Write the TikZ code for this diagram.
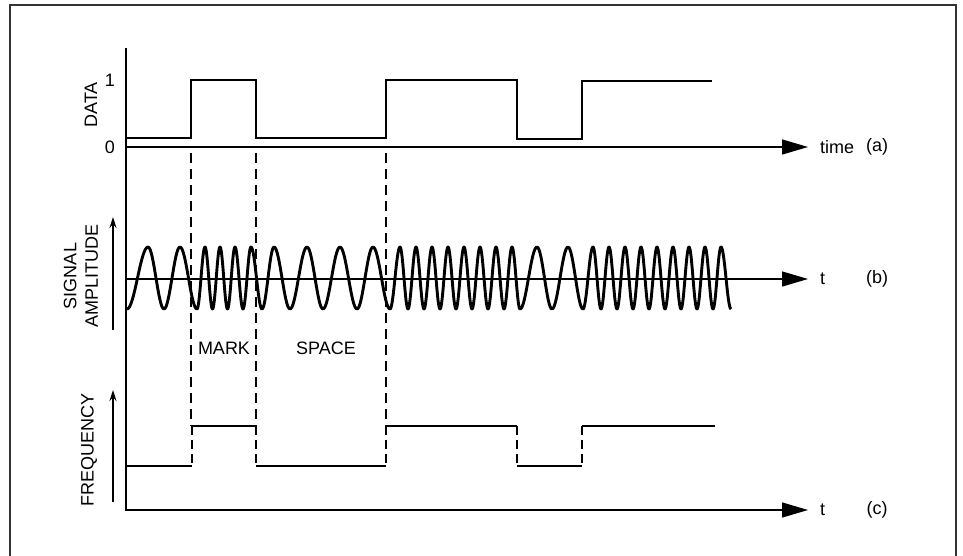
\documentclass[tikz,border=0pt]{standalone}
\usepackage{fontspec}
\setmainfont{Liberation Sans}
\usetikzlibrary{arrows.meta,positioning}

\begin{document}
\begin{tikzpicture}[
    x=1pt, y=-1pt,
    lbl/.style={font=\fontsize{18}{21.5}\selectfont, inner sep=0pt},
    sig/.style={line width=2.9pt},
    axis/.style={line width=1.3pt},
    bigtip/.style={-{Triangle[length=26pt,width=15pt]}},
    smalltip/.style={-{Stealth[length=11pt,width=7pt]}},
    guide/.style={line width=1.2pt, dash pattern=on 10pt off 6pt},
    hop/.style={line width=2.6pt, dash pattern=on 9pt off 5pt},
    frame/.style={line width=1.5pt, black!80}
]
    \useasboundingbox (0,0) rectangle (963,556);
    \draw[frame] (10,560) -- (10,5) -- (956,5) -- (956,560);

    % axes
    \coordinate (ytop) at (126,48);
    \coordinate (corner) at (126,510);
    \coordinate (tipC) at (808,510);
    \coordinate (startA) at (126,147);
    \coordinate (tipA) at (808,147);
    \coordinate (startB) at (126,279);
    \coordinate (tipB) at (808,279);
    \draw[axis, bigtip] (ytop) -- (corner) -- (tipC);
    \draw[axis, bigtip] (startA) -- (tipA);
    \draw[axis, bigtip] (startB) -- (tipB);

    \coordinate (ampbot) at (113,330);
    \coordinate (amptop) at (113,217);
    \coordinate (frqbot) at (113,502);
    \coordinate (frqtop) at (113,390);
    \draw[axis, smalltip] (ampbot) -- (amptop);
    \draw[axis, smalltip] (frqbot) -- (frqtop);

    % guides
    \foreach \xx in {191,256,386}
        \draw[guide] (\xx,153) -- (\xx,426);

    % data
    \draw[sig] (126,138) -- (191,138) -- (191,80) -- (256,80) -- (256,138)
        -- (386,138) -- (386,80) -- (517,80) -- (517,139) -- (582,139)
        -- (582,81) -- (712,81);

    % frequency
    \foreach \xa/\xb/\yy in {126/192/466, 192/256/426, 256/386/466,
                             386/517/426, 517/582/466, 582/715/426}
        \draw[sig] (\xa,\yy) -- (\xb,\yy);
    \foreach \xx in {192,256,386,517,582}
        \draw[hop] (\xx,426) -- (\xx,466);

    % signal
    \draw[sig, line join=round] (127,309)
        \foreach \xe [remember=\xe as \xprev (initially 127), count=\k] in
        {148,164,180,197,205,212.5,220,227.5,235,243,251,262,274,290,307,323,
         340,357,373,390,400,408,416,424,432,440,448,456,464,472,480,488,496,
         504,512,520,537,552,568,583,593,601,609,617,625,633,641,649,657,665,
         673,681,689,697,705,713,721,731}
        { cos ({(\xprev+\xe)/2},278) sin (\xe,{278+31*cos(180*\k)}) };

    % labels
    \node[lbl] (one) at (110,80) {1};
    \node[lbl] (zero) at (110,147) {0};
    \node[lbl, rotate=90] (datalbl) at (91,105) {DATA};
    \node[lbl, rotate=90, align=center] (amplbl) at (81,276) {SIGNAL\\AMPLITUDE};
    \node[lbl, rotate=90] (frqlbl) at (89,450) {FREQUENCY};
    \node[lbl] (mark) at (224,348) {MARK};
    \node[lbl] (space) at (326,348) {SPACE};

    \node[lbl, right=12pt of tipA] (timeA) {time};
    \node[lbl] (labA) at (877,147) {(a)};
    \node[lbl, right=12pt of tipB] (tB) {t};
    \node[lbl] (labB) at (877,279) {(b)};
    \node[lbl, right=12pt of tipC] (tC) {t};
    \node[lbl] (labC) at (877,510) {(c)};
\end{tikzpicture}
\end{document}
